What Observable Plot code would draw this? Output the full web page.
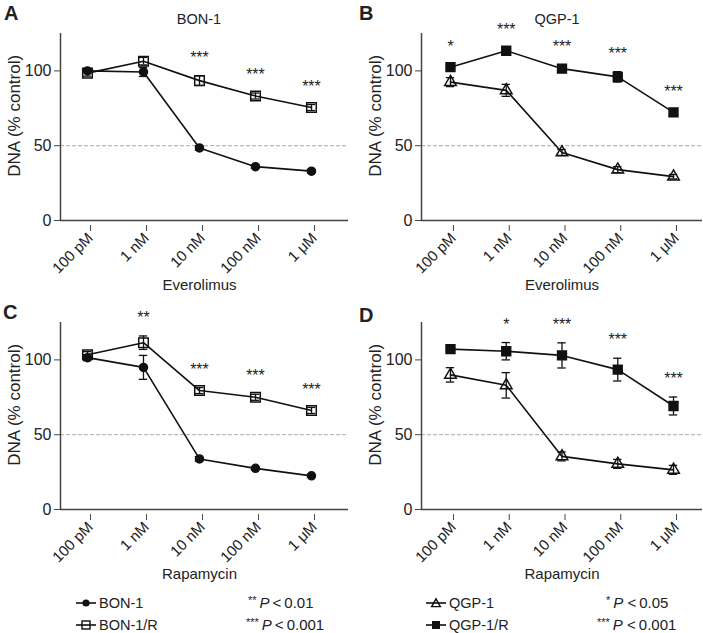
<!DOCTYPE html>
<html>
<head>
<meta charset="utf-8">
<script src="https://cdn.jsdelivr.net/npm/d3@7"></script>
<script src="https://cdn.jsdelivr.net/npm/@observablehq/plot@0.6"></script>
<style>
  body { margin: 0; background: #fff; }
  #fig { position: relative; width: 703px; height: 633px; font-family: "Liberation Sans", Arial, Helvetica, sans-serif; color: #222; overflow: hidden; }
  .panel { position: absolute; }
  .letter { position: absolute; font-weight: bold; font-size: 20px; line-height: 1; }
  .title { position: absolute; font-size: 14.5px; line-height: 1; transform: translateX(-50%); white-space: nowrap; }
  .leg { position: absolute; font-size: 14.5px; line-height: 1; white-space: nowrap; display: flex; align-items: center; }
  .leg svg { margin-right: 3px; }
  .stat { position: absolute; font-size: 15px; line-height: 1; white-space: nowrap; }
  .stat sup { font-size: 11px; vertical-align: 4px; margin-right: 3px; }
</style>
</head>
<body>
<div id="fig"></div>
<script>
// ---- data ----
const doses = ["100 pM", "1 nM", "10 nM", "100 nM", "1 μM"];
const yTicks = [0, 50, 100];

// A: Everolimus, BON-1 vs BON-1/R
const bon1Eve = [100, 99.3, 48.5, 36, 33];
const bon1EveErr = [1, 3, 1.5, 1.2, 1.2];
const bon1rEve = [98.5, 106.5, 93.5, 83.2, 75.5];
const bon1rEveErr = [2, 2.5, 3.2, 2, 2];
const sigA = ["", "", "***", "***", "***"];

// B: Everolimus, QGP-1 vs QGP-1/R
const qgp1Eve = [92.5, 87, 45.5, 34, 29.3];
const qgp1EveErr = [3, 4, 2, 2, 1.5];
const qgp1rEve = [102.5, 113.5, 101.5, 96, 72.3];
const qgp1rEveErr = [1.5, 2, 2.5, 3.5, 2];
const sigB = ["*", "***", "***", "***", "***"];

// C: Rapamycin, BON-1 vs BON-1/R
const bon1Rapa = [101.5, 95, 33.8, 27.5, 22.5];
const bon1RapaErr = [2, 8, 1.5, 1, 1];
const bon1rRapa = [103.5, 111.5, 79.5, 75, 66.2];
const bon1rRapaErr = [2, 4.5, 2, 2, 2];
const sigC = ["", "**", "***", "***", "***"];

// D: Rapamycin, QGP-1 vs QGP-1/R
const qgp1Rapa = [90, 83, 35.5, 30.5, 26.5];
const qgp1RapaErr = [4.8, 8.5, 3, 3, 3];
const qgp1rRapa = [107.2, 105.8, 103, 93.5, 69.2];
const qgp1rRapaErr = [1.5, 5.8, 8.4, 7.6, 6];
const sigD = ["", "*", "***", "***", "***"];

// ---- drawing ----
const FONT = '"Liberation Sans", Arial, Helvetica, sans-serif';
const rows = (v, e) => doses.map((d, i) => ({i, v: v[i], e: e[i]}));

function seriesMarks(data, sym) {
  const capW = 0.075;
  const style = {stroke: "#111", strokeWidth: 1.3};
  const dot = sym === "circle" ? {symbol: "circle", r: 4, fill: "#111", stroke: "#111"}
    : sym === "fsquare" ? {symbol: "square", r: 5, fill: "#111", stroke: "#111"}
    : sym === "osquare" ? {symbol: "square", r: 5.4, fill: "none", stroke: "#111", strokeWidth: 1.5}
    : {symbol: "triangle", r: 4.3, fill: "none", stroke: "#111", strokeWidth: 1.5};
  return [
    Plot.ruleX(data, {x: "i", y1: d => d.v - d.e, y2: d => d.v + d.e, ...style}),
    Plot.ruleY(data, {y: d => d.v - d.e, x1: d => d.i - capW, x2: d => d.i + capW, ...style}),
    Plot.ruleY(data, {y: d => d.v + d.e, x1: d => d.i - capW, x2: d => d.i + capW, ...style}),
    Plot.line(data, {x: "i", y: "v", stroke: "#111", strokeWidth: 1.6}),
    Plot.dot(data, {x: "i", y: "v", ...dot})
  ];
}

function panel({lo, loErr, hi, hiErr, loSym, hiSym, sig, xDomain, width, marginLeft, marginRight, xLabel}) {
  const L = rows(lo, loErr), H = rows(hi, hiErr);
  const sigRows = sig.map((s, i) => ({i, s, y: Math.max(L[i].v + L[i].e, H[i].v + H[i].e) + 12})).filter(d => d.s);
  return Plot.plot({
    width, height: 300,
    marginLeft, marginRight, marginTop: 33, marginBottom: 80,
    style: {fontFamily: FONT, color: "#222", background: "transparent", overflow: "visible"},
    x: {type: "linear", domain: xDomain},
    y: {domain: [0, 125]},
    marks: [
      Plot.ruleY([50], {stroke: "#aaa", strokeWidth: 1, strokeDasharray: "4,2"}),
      Plot.axisY({ticks: yTicks, tickSize: 6, tickPadding: 3, fontSize: 16, label: null, stroke: "#444"}),
      Plot.axisX({ticks: [0, 1, 2, 3, 4], tickFormat: i => doses[i], tickRotate: -45, tickSize: 6, tickPadding: 4, fontSize: 15, dx: 3, dy: 5, label: null, stroke: "#444"}),
      Plot.ruleY([0], {stroke: "#444", strokeWidth: 1.5}),
      Plot.ruleX([xDomain[0]], {y1: 0, y2: 125, stroke: "#444", strokeWidth: 1.5}),
      ...seriesMarks(L, loSym),
      ...seriesMarks(H, hiSym),
      Plot.text(sigRows, {x: "i", y: "y", text: "s", fontSize: 16, fill: "#222"}),
      Plot.text([xLabel], {x: () => 2, text: d => d, frameAnchor: "bottom", dy: 69, fontSize: 15, fill: "#222"}),
      Plot.text(["DNA (% control)"], {y: () => 70, text: d => d, frameAnchor: "left", textAnchor: "middle", dx: -46, rotate: -90, fontSize: 17, fill: "#222"})
    ]
  });
}

const fig = document.getElementById("fig");
function place(node, left, top) {
  node.classList.add("panel");
  node.style.left = left + "px";
  node.style.top = top + "px";
  fig.appendChild(node);
}
const leftCfg = {width: 350, marginLeft: 60, marginRight: 2, xDomain: [-0.482, 4.661]};
const rightCfg = {width: 353, marginLeft: 71, marginRight: 1, xDomain: [-0.52, 4.52]};

place(panel({...leftCfg, lo: bon1Eve, loErr: bon1EveErr, hi: bon1rEve, hiErr: bon1rEveErr, loSym: "circle", hiSym: "osquare", sig: sigA, xLabel: "Everolimus"}), 0, 0);
place(panel({...rightCfg, lo: qgp1Eve, loErr: qgp1EveErr, hi: qgp1rEve, hiErr: qgp1rEveErr, loSym: "triangle", hiSym: "fsquare", sig: sigB, xLabel: "Everolimus"}), 350, 0);
place(panel({...leftCfg, lo: bon1Rapa, loErr: bon1RapaErr, hi: bon1rRapa, hiErr: bon1rRapaErr, loSym: "circle", hiSym: "osquare", sig: sigC, xLabel: "Rapamycin"}), 0, 289);
place(panel({...rightCfg, lo: qgp1Rapa, loErr: qgp1RapaErr, hi: qgp1rRapa, hiErr: qgp1rRapaErr, loSym: "triangle", hiSym: "fsquare", sig: sigD, xLabel: "Rapamycin"}), 350, 289);

function addDiv(cls, html, left, top) {
  const d = document.createElement("div");
  d.className = cls; d.innerHTML = html;
  d.style.left = left + "px"; d.style.top = top + "px";
  fig.appendChild(d);
}
addDiv("letter", "A", 4, 3);
addDiv("letter", "B", 359, 3);
addDiv("letter", "C", 3, 302);
addDiv("letter", "D", 359, 305);
addDiv("title", "BON-1", 199, 12);
addDiv("title", "QGP-1", 557, 12);

const glyph = {
  circle: '<circle cx="10" cy="6" r="3.6" fill="#111"/>',
  osquare: '<rect x="6" y="2" width="8" height="8" fill="none" stroke="#111" stroke-width="1.4"/>',
  triangle: '<path d="M10,1.8 L14.3,9.6 L5.7,9.6 Z" fill="none" stroke="#111" stroke-width="1.4"/>',
  fsquare: '<rect x="6" y="2" width="8" height="8" fill="#111"/>'
};
function legItem(sym, label, left, top) {
  const svg = `<svg width="20" height="12"><line x1="0" x2="20" y1="6" y2="6" stroke="#111" stroke-width="1.6"/>${glyph[sym]}</svg>`;
  addDiv("leg", svg + label, left, top);
}
legItem("circle", "BON-1", 76, 596);
legItem("osquare", "BON-1/R", 76, 618);
legItem("triangle", "QGP-1", 426, 596);
legItem("fsquare", "QGP-1/R", 426, 618);
addDiv("stat", "<sup>**</sup><i>P</i>&thinsp;&lt;&thinsp;0.01", 248, 595);
addDiv("stat", "<sup>***</sup><i>P</i>&thinsp;&lt;&thinsp;0.001", 246, 617);
addDiv("stat", "<sup>*</sup><i>P</i>&nbsp;&lt;&thinsp;0.05", 606, 595);
addDiv("stat", "<sup>***</sup><i>P</i>&nbsp;&lt;&thinsp;0.001", 597, 617);
</script>
</body>
</html>
